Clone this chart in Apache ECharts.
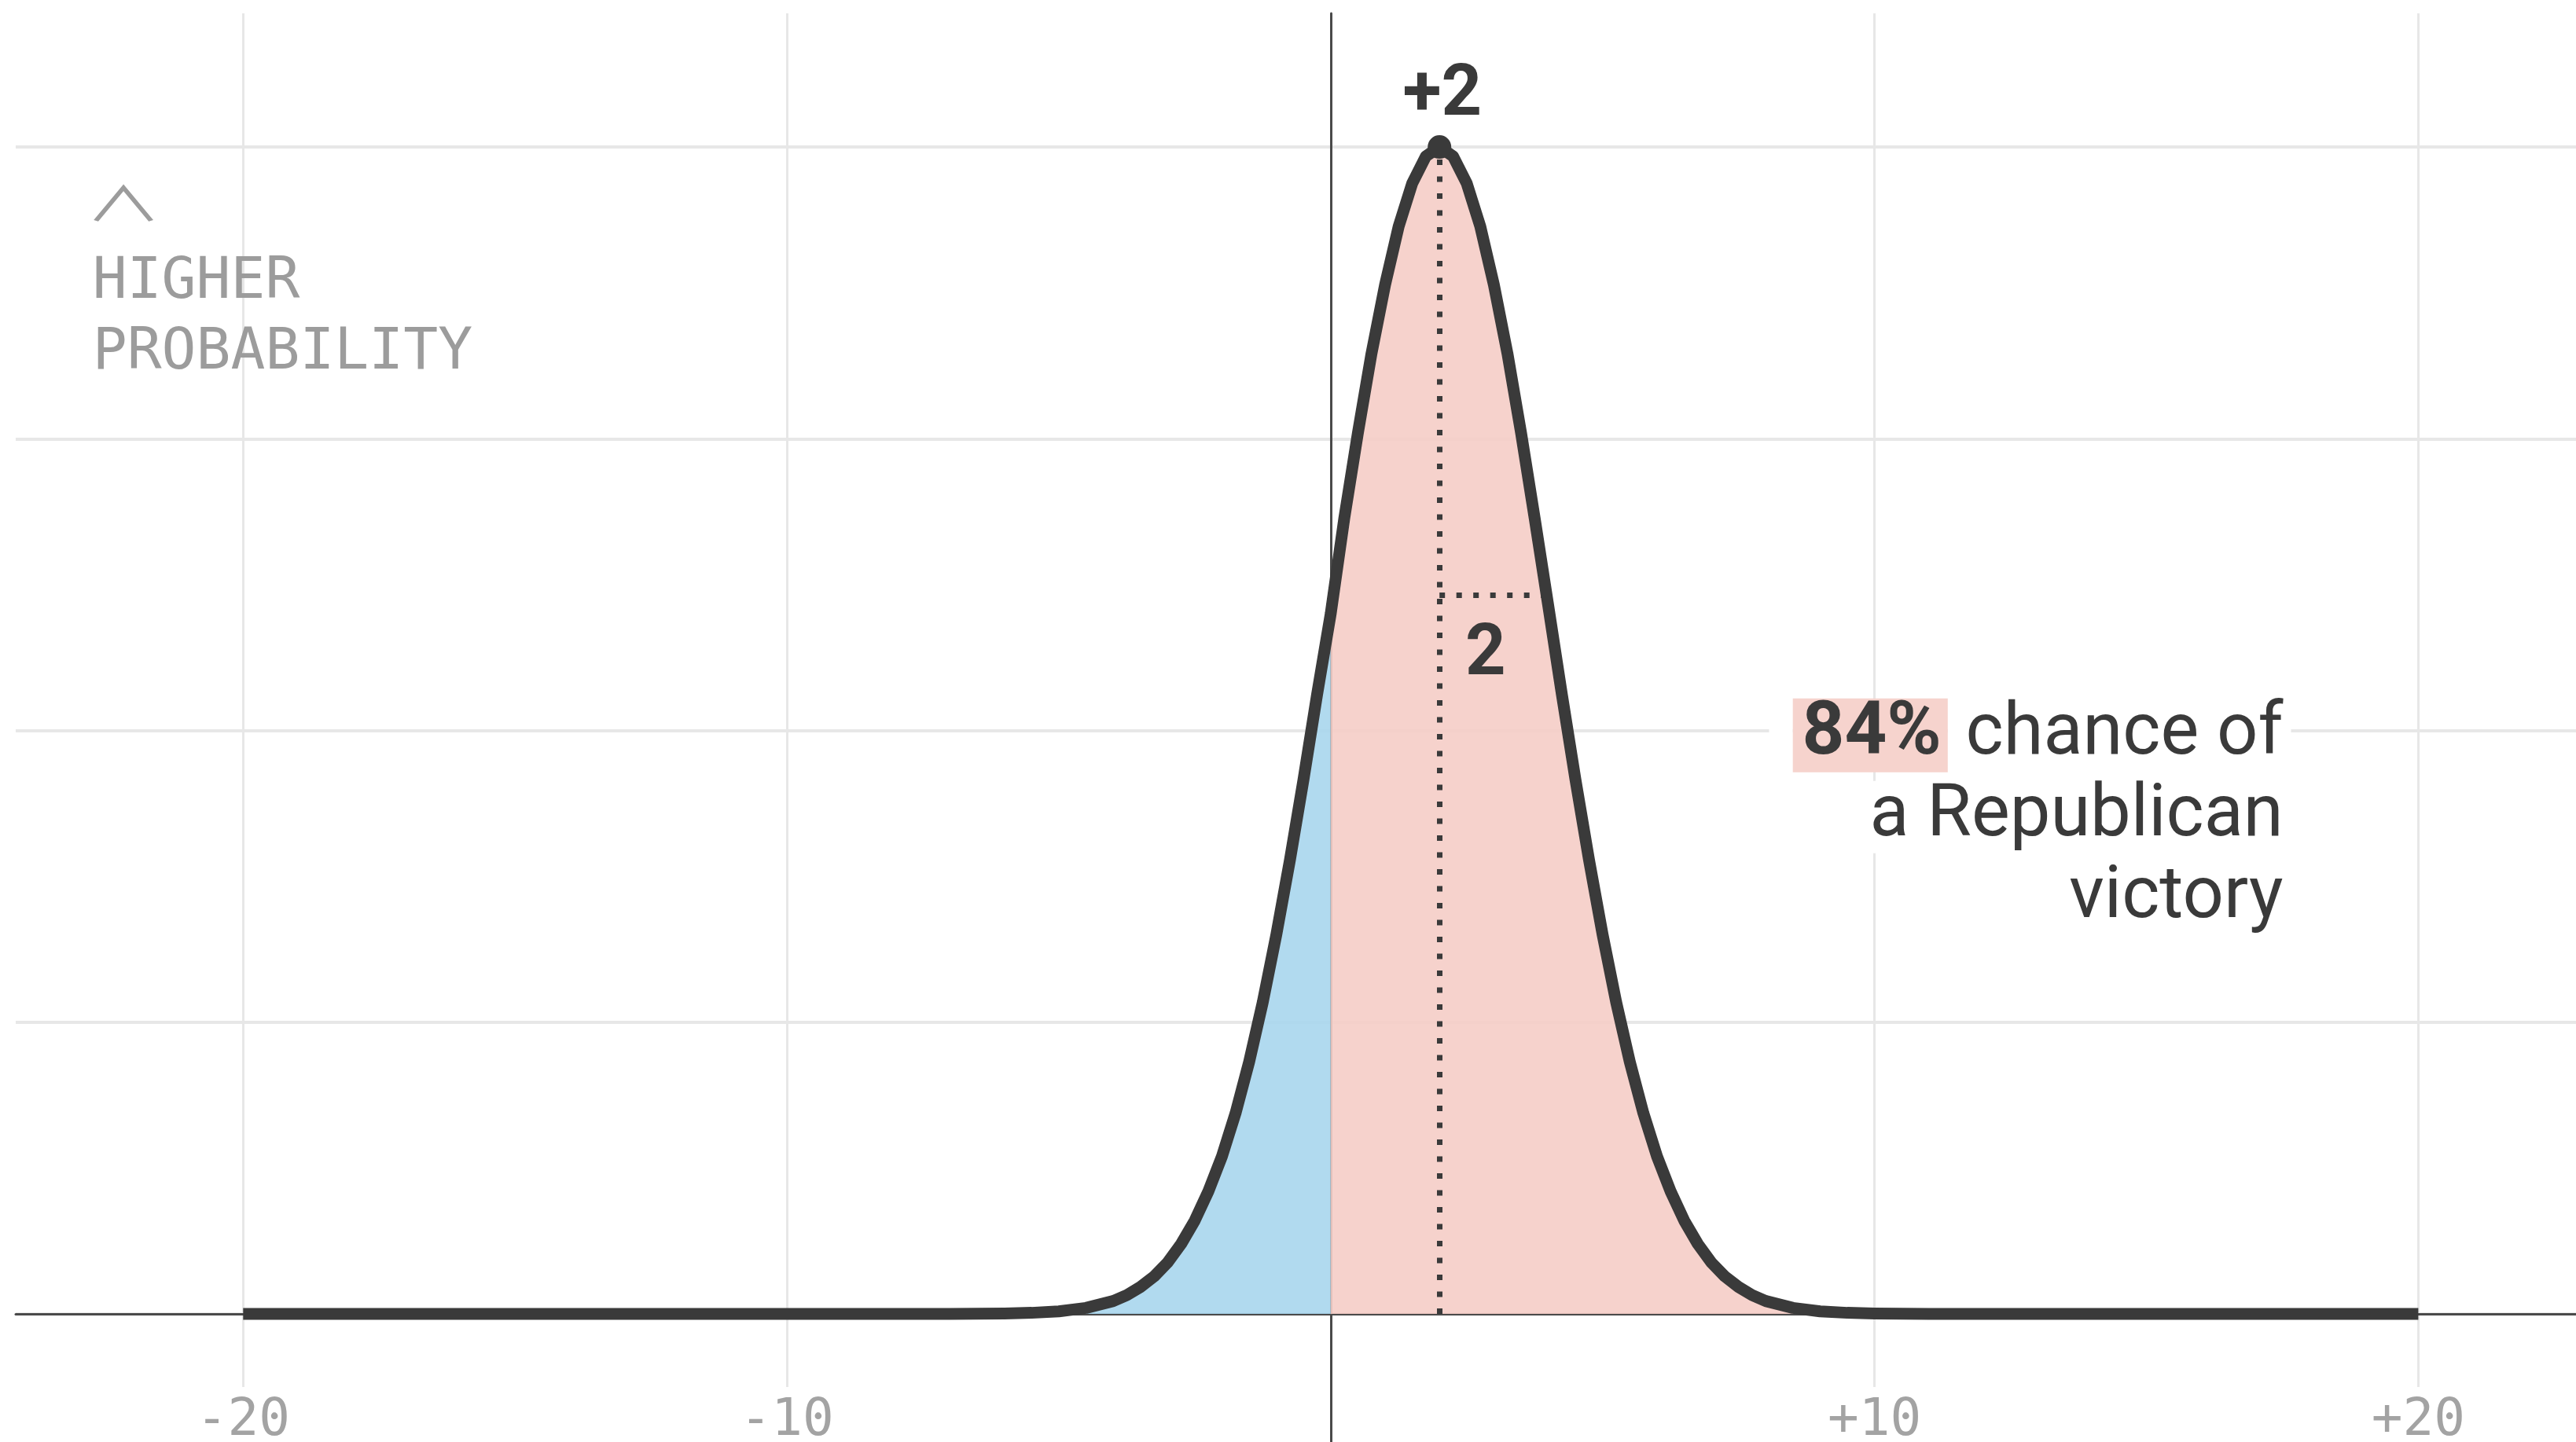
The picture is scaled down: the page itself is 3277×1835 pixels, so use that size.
<!DOCTYPE html>
<html>
<head>
<meta charset="utf-8">
<script src="https://cdn.jsdelivr.net/npm/echarts@6/dist/echarts.min.js"></script>
<style>
html,body{margin:0;padding:0;background:#fff;}
#chart{width:3277px;height:1835px;}
</style>
</head>
<body>
<div id="chart"></div>
<script>
// Margin (points) and relative probability
const margins = [-20, -10, -7, -6, -5.5, -5, -4.5, -4, -3.75, -3.5, -3.25, -3, -2.75, -2.5, -2.25, -2, -1.75, -1.5, -1.25, -1, -0.75, -0.5, -0.25,
  0, 0.25, 0.5, 0.75, 1, 1.25, 1.5, 1.75, 2, 2.25, 2.5, 2.75, 3, 3.25, 3.5, 3.75, 4, 4.25, 4.5, 4.75, 5, 5.25, 5.5, 5.75,
  6, 6.25, 6.5, 6.75, 7, 7.25, 7.5, 7.75, 8, 8.5, 9, 9.5, 10, 11, 14, 20];
const probability = [0, 0, 0, 0.0003, 0.0009, 0.0022, 0.0051, 0.011, 0.016, 0.023, 0.032, 0.044, 0.060, 0.080, 0.105, 0.135, 0.172, 0.216, 0.267, 0.325, 0.389, 0.458, 0.531,
  0.600, 0.682, 0.755, 0.823, 0.882, 0.932, 0.969, 0.992, 1.0, 0.992, 0.969, 0.932, 0.882, 0.823, 0.755, 0.682, 0.607, 0.531, 0.458, 0.389, 0.325, 0.267, 0.216, 0.172,
  0.135, 0.105, 0.080, 0.060, 0.044, 0.032, 0.023, 0.016, 0.011, 0.0051, 0.0022, 0.0009, 0.0003, 0, 0, 0];
const xGridValues = [-20, -10, 0, 10, 20];
const xTickLabels = [-20, -10, 10, 20];
const yGridValues = [0, 0.25, 0.5, 0.75, 1];
const mean = 2;
const sdLevel = 0.616;
const sdEnd = 3.9;
const winChance = '84%';

const pairs = margins.map((m, i) => [m, probability[i]]);
const demSide = pairs.filter(p => p[0] <= 0);
const repSide = pairs.filter(p => p[0] >= 0);

const ink = '#3a3a3a';
const grey = '#9c9c9c';
const gridColor = '#e7e7e7';

const chart = echarts.init(document.getElementById('chart'), null, {renderer: 'canvas'});
chart.setOption({
  animation: false,
  backgroundColor: '#ffffff',
  grid: {left: 20, right: 0, top: 17, bottom: 0, containLabel: false, outerBoundsMode: 'none'},
  xAxis: {
    type: 'value', min: -24.182, max: 22.90,
    axisLine: {show: true, onZero: true, lineStyle: {color: '#4a4a4a', width: 3}},
    axisTick: {show: false, customValues: xGridValues},
    splitLine: {show: true, lineStyle: {color: gridColor, width: 3}},
    axisLabel: {
      show: true, customValues: xTickLabels, margin: -70,
      formatter: v => (v > 0 ? '+' + v : String(v)),
      fontFamily: 'DejaVu Sans Mono', fontSize: 66, color: '#a3a3a3',
      backgroundColor: '#ffffff', padding: [11, 10, 20, 10]
    }
  },
  yAxis: {
    type: 'value', min: -0.1098, max: 1.1145,
    axisLine: {show: true, onZero: true, lineStyle: {color: '#4a4a4a', width: 3}},
    axisTick: {show: false, customValues: yGridValues},
    axisLabel: {show: false},
    splitLine: {show: true, lineStyle: {color: gridColor, width: 4}}
  },
  series: [
    {
      type: 'line', data: demSide, showSymbol: false, silent: true, z: 2,
      lineStyle: {width: 0}, areaStyle: {color: '#a9d6ed', opacity: 0.9, origin: 0}
    },
    {
      type: 'line', data: repSide, showSymbol: false, silent: true, z: 2,
      lineStyle: {width: 0}, areaStyle: {color: '#f5cdc7', opacity: 0.9, origin: 0},
      markLine: {
        silent: true, symbol: ['none', 'none'], label: {show: false},
        lineStyle: {color: ink, width: 7, type: [7, 14.5], cap: 'butt'},
        emphasis: {disabled: true},
        data: [
          [{coord: [mean, 0]}, {coord: [mean, 1]}],
          [{coord: [mean, sdLevel]}, {coord: [sdEnd, sdLevel]}]
        ]
      }
    },
    {
      type: 'line', data: pairs, showSymbol: false, silent: true, z: 4,
      lineStyle: {color: ink, width: 15, join: 'round', cap: 'butt'},
      markPoint: {
        silent: true,
        data: [
          {coord: [mean, 1], symbol: 'circle', symbolSize: 30, itemStyle: {color: ink}, label: {show: false}},
          {coord: [2.053, 1.043], symbol: 'circle', symbolSize: 1, itemStyle: {color: 'transparent'},
            label: {show: true, position: 'inside', formatter: '+' + mean, fontFamily: 'Roboto', fontWeight: 'bold', fontSize: 90, color: ink, align: 'center', verticalAlign: 'middle'}},
          {coord: [2.848, 0.563], symbol: 'circle', symbolSize: 1, itemStyle: {color: 'transparent'},
            label: {show: true, position: 'inside', formatter: '2', fontFamily: 'Roboto', fontWeight: 'bold', fontSize: 90, color: ink, align: 'center', verticalAlign: 'middle'}},
          {coord: [17.66, 0.4258], symbol: 'circle', symbolSize: 1, itemStyle: {color: 'transparent'},
            label: {show: true, position: 'inside', align: 'right', verticalAlign: 'middle',
              formatter: '{w|}{b|' + winChance + '}{r| chance of}\n{r|a Republican}\n{r|victory}',
              rich: {
                w: {width: 30, height: 104, lineHeight: 104, backgroundColor: '#ffffff'},
                b: {fontFamily: 'Roboto', fontWeight: 'bold', fontSize: 94, lineHeight: 104, color: ink, backgroundColor: '#f6d3cd', padding: [0, 8, 0, 12]},
                r: {fontFamily: 'Roboto', fontSize: 92, lineHeight: 104, color: ink, backgroundColor: '#ffffff', padding: [0, 10, 0, 0]}
              }}},
          {coord: [-22.77, 0.853], symbol: 'circle', symbolSize: 1, itemStyle: {color: 'transparent'},
            label: {show: true, position: 'inside', align: 'left', verticalAlign: 'middle',
              formatter: 'HIGHER\nPROBABILITY', fontFamily: 'DejaVu Sans Mono', fontSize: 73, lineHeight: 90, color: grey}},
          {coord: [-22.20, 0.951], symbol: 'path://M0,42L35,0L70,42', symbolSize: [70, 42], symbolKeepAspect: false,
            itemStyle: {color: 'none', borderColor: grey, borderWidth: 5}, label: {show: false}}
        ]
      }
    }
  ]
});
</script>
</body>
</html>
